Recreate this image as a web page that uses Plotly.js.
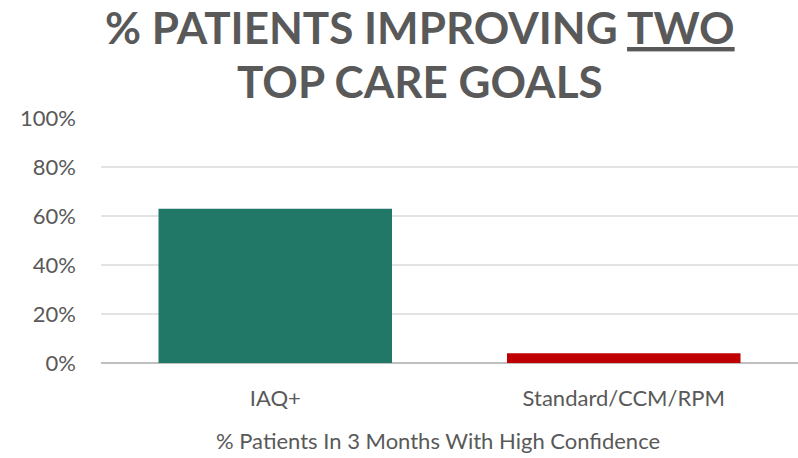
<!DOCTYPE html>
<html><head><meta charset="utf-8">
<script src="https://cdn.plot.ly/plotly-3.0.1.min.js"></script>
<style>html,body{margin:0;padding:0;background:#fff}#chart{width:798px;height:458px}</style>
</head><body><div id="chart"></div>
<script>
const categories = ["IAQ+", "Standard/CCM/RPM"];
const values = [0.63, 0.04];
const barColors = ["#217867", "#c00000"];
const yTickVals = [0, 0.2, 0.4, 0.6, 0.8, 1.0];
const yTickText = ["0%", "20%", "40%", "60%", "80%", "100%"];
const titleLine1 = "% PATIENTS IMPROVING <u>TWO</u>";
const titleLine2 = "TOP CARE GOALS";
const xTitle = "% Patients In 3 Months With High Confidence";

const grey = "#595959";
const fam = "Lato, 'Open Sans', sans-serif";
const titleX = (420 - 101) / 697;
Plotly.newPlot("chart", [{
  type: "bar", x: categories, y: values,
  marker: {color: barColors}, hoverinfo: "skip"
}], {
  width: 798, height: 458,
  margin: {l: 101, r: 0, t: 118, b: 95},
  paper_bgcolor: "#fff", plot_bgcolor: "#fff",
  bargap: 0.33,
  font: {family: fam, color: grey},
  annotations: [
    {text: titleLine1, xref: "paper", yref: "paper", x: titleX, y: 1 + 91/245, xanchor: "center", yanchor: "middle",
     showarrow: false, font: {family: fam, size: 44, color: grey, weight: "bold"}},
    {text: titleLine2, xref: "paper", yref: "paper", x: titleX, y: 1 + 37/245, xanchor: "center", yanchor: "middle",
     showarrow: false, font: {family: fam, size: 44, color: grey, weight: "bold"}},
    {text: xTitle, xref: "paper", yref: "paper", x: (438 - 101) / 697, y: -77/245, xanchor: "center", yanchor: "middle",
     showarrow: false, font: {family: fam, size: 22, color: grey}}
  ],
  xaxis: {tickfont: {size: 22, color: grey}, ticks: "", showgrid: false, showline: false, ticklabelstandoff: 20},
  yaxis: {range: [0, 1], tickvals: yTickVals, ticktext: yTickText, tickfont: {size: 22, color: grey},
          gridcolor: "#e3e3e3", gridwidth: 1.5, zeroline: true, zerolinecolor: "#bfbfbf", zerolinewidth: 1.5,
          ticks: "", ticklabelstandoff: 24, fixedrange: true},
  showlegend: false
}, {displayModeBar: false, staticPlot: true});
</script></body></html>
